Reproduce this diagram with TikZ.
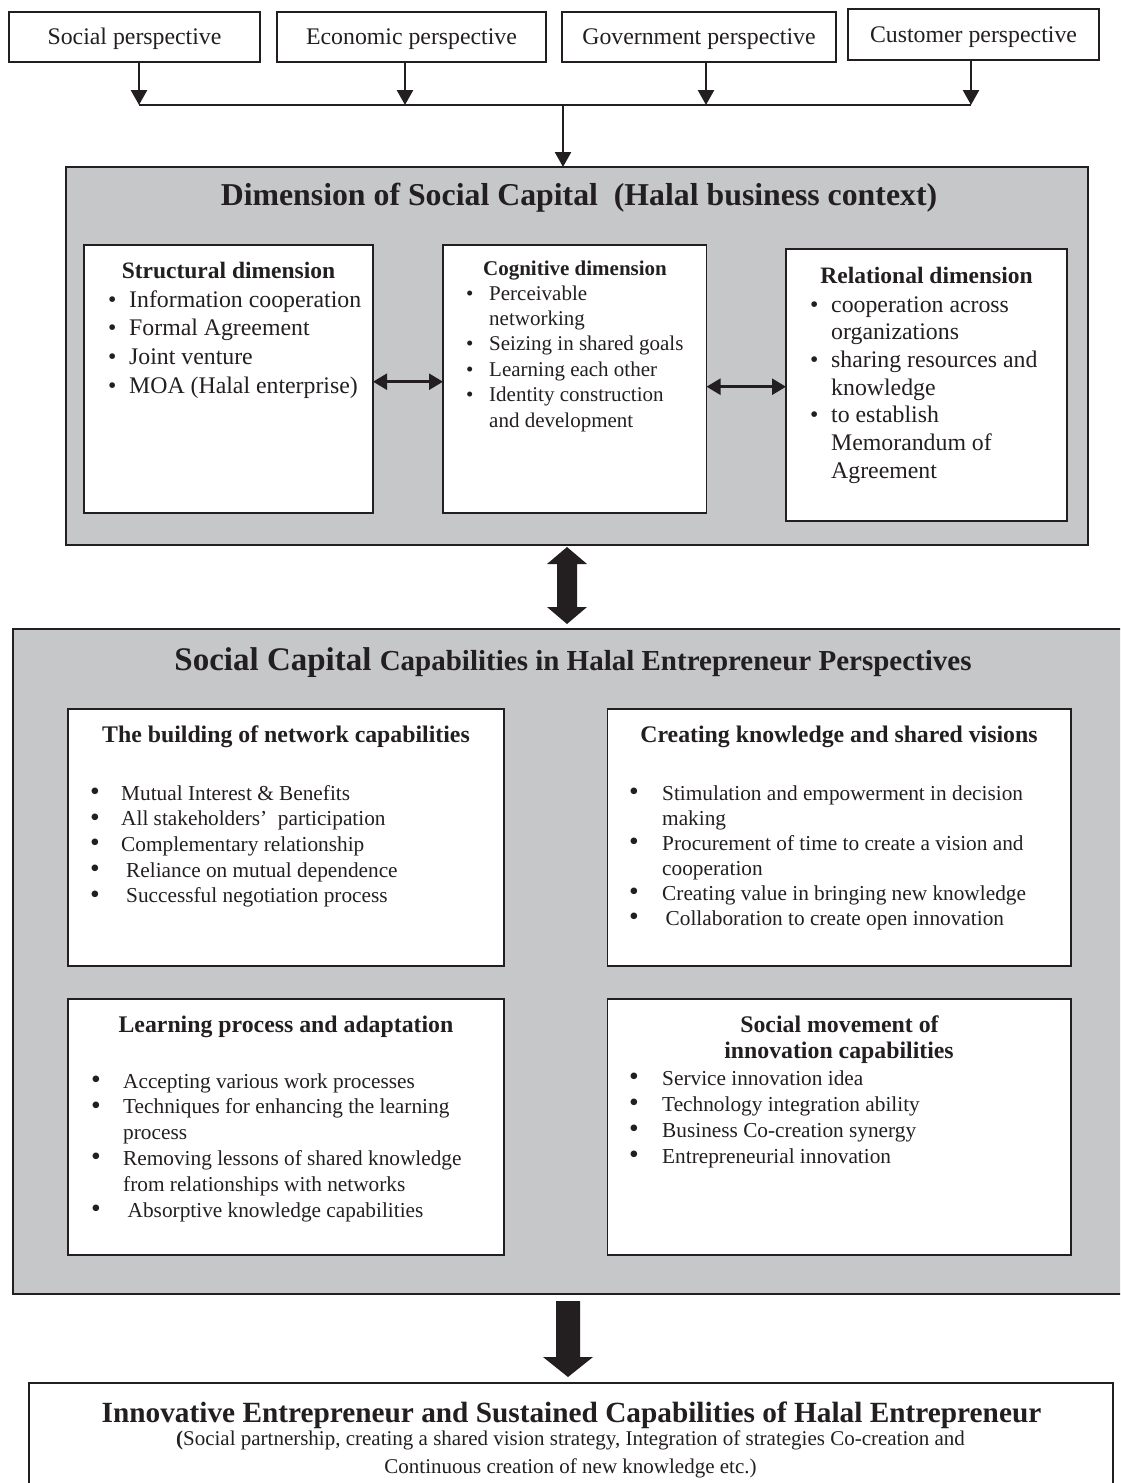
\documentclass[tikz,border=0pt]{standalone}
\usepackage{fontspec}
\usepackage{graphicx}
\setmainfont{Liberation Serif}
\usetikzlibrary{arrows.meta}
\definecolor{ink}{HTML}{231F20}
\definecolor{panel}{HTML}{C6C7C9}
\newlength\tind
\newcommand\bulsym{\textbullet}
\newcommand\bitem[1]{\par\noindent\makebox[\tind][l]{\bulsym}#1}
\newcommand\citem[1]{\par\noindent\hspace*{\tind}#1}
\newcommand\fs[2]{\fontsize{#1}{#2}\selectfont}
\newcommand\rbox[6]{\node[#1, minimum width={#5-#3}, minimum height={#6-#4}] (#2) at ({(#3+#5)/2},{(#4+#6)/2}) {};}
\tikzset{
 wbox/.style={draw=ink, line width=1.8pt, fill=white, inner sep=0pt, outer sep=0pt},
 panelbox/.style={draw=ink, line width=2pt, fill=panel, inner sep=0pt, outer sep=0pt},
 lbl/.style={inner sep=0pt, anchor=base, text=ink},
 blk/.style={inner sep=0pt, anchor=base west, text=ink},
 arr/.style={draw=ink, line width=2.5pt, -{Triangle[length=15pt,width=16pt]}},
 darr/.style={draw=ink, line width=2.5pt, {Triangle[length=14pt,width=16pt]}-{Triangle[length=14pt,width=16pt]}},
 bus/.style={draw=ink, line width=2pt},
 fat/.style={fill=ink}
}
\begin{document}
\begin{tikzpicture}[x=1pt,y=-1pt]
\useasboundingbox (0,0) rectangle (1120,1483);
\clip (0,0) rectangle (1120,1483);
\fill[white] (0,0) rectangle (1120,1483);

% perspectives
\rbox{wbox}{soc}{9}{11.7}{260}{61.7}
\rbox{wbox}{eco}{277}{11.7}{546}{61.7}
\rbox{wbox}{gov}{562}{11.7}{836}{61.7}
\rbox{wbox}{cus}{848}{9.3}{1099}{60}
\node[lbl] (tsoc) at (134.5,44) {\fs{23.8}{28}Social perspective};
\node[lbl] (teco) at (411.5,44) {\fs{23.8}{28}Economic perspective};
\node[lbl] (tgov) at (699,44) {\fs{23.8}{28}Government perspective};
\node[lbl] (tcus) at (973.5,42) {\fs{23.8}{28}Customer perspective};

\coordinate (busL) at (139,105);
\coordinate (busE) at (405,105);
\coordinate (busM) at (563,105);
\coordinate (busG) at (706,105);
\coordinate (busR) at (971,105);
\draw[bus] (busL) -- (busR);
\draw[arr] (soc.south -| busL) -- (busL);
\draw[arr] (eco.south -| busE) -- (busE);
\draw[arr] (gov.south -| busG) -- (busG);
\draw[arr] (cus.south -| busR) -- (busR);

% dimension panel
\rbox{panelbox}{dim}{66}{167}{1087.5}{545}
\draw[arr] (busM) -- (dim.north -| busM);
\node[lbl] (tdim) at (579,205) {\fs{31.8}{36}\bfseries Dimension of Social Capital~ (Halal business context)};

\rbox{wbox}{str}{84}{245}{373}{513}
\rbox{wbox}{cog}{443}{245}{706.5}{513}
\rbox{wbox}{rel}{786}{249}{1067}{521}

\node[lbl] (hstr) at (228.5,278) {\fs{23.5}{28}\bfseries Structural dimension};
\node[blk] (lstr) at (108,307) {\parbox[t]{500pt}{\setlength\tind{21pt}\fs{23.8}{28.7}%
\bitem{Information cooperation}
\bitem{Formal Agreement}
\bitem{Joint venture}
\bitem{MOA (Halal enterprise)}}};

\node[lbl] (hcog) at (575,275) {\fs{21}{25}\bfseries Cognitive dimension};
\node[blk] (lcog) at (466,300) {\parbox[t]{500pt}{\setlength\tind{23pt}\fs{21}{25.4}%
\bitem{Perceivable}
\citem{networking}
\bitem{Seizing in shared goals}
\bitem{Learning each other}
\bitem{Identity construction}
\citem{and development}}};

\node[lbl] (hrel) at (926.5,283) {\fs{23.5}{28}\bfseries Relational dimension};
\node[blk] (lrel) at (810,312) {\parbox[t]{500pt}{\setlength\tind{21pt}\fs{23.8}{27.7}%
\bitem{cooperation across}
\citem{organizations}
\bitem{sharing resources and}
\citem{knowledge}
\bitem{to establish}
\citem{Memorandum of}
\citem{Agreement}}};

\coordinate (ya) at (0,381.7);
\coordinate (yb) at (0,386.7);
\draw[darr] (str.east |- ya) -- (cog.west |- ya);
\draw[darr] (cog.east |- yb) -- (rel.west |- yb);

% capabilities panel
\rbox{panelbox}{cap}{12.5}{629}{1150}{1294}
\fill[fat] (567,547) -- (587,564) -- (577,564) -- (577,607) -- (587,607) -- (567,624)
  -- (547,607) -- (557,607) -- (557,564) -- (547,564) -- cycle;
\node[lbl] (tcap) at (573,670) {\bfseries\fs{33}{38}Social Capital \fs{29}{34}Capabilities in Halal Entrepreneur Perspectives};

\rbox{wbox}{bnet}{68}{709}{504}{966}
\rbox{wbox}{bvis}{607.5}{709}{1071}{966}
\rbox{wbox}{blrn}{68}{999}{504}{1255}
\rbox{wbox}{bmov}{607.5}{999}{1071}{1255}

\renewcommand\bulsym{\raisebox{-0.5pt}{\scalebox{1.3}{\textbullet}}}
\node[lbl] (hnet) at (286,742) {\fs{23.8}{28}\bfseries The building of network capabilities};
\node[blk] (lnet) at (90,800) {\parbox[t]{500pt}{\setlength\tind{31pt}\fs{21.3}{25.7}%
\bitem{Mutual Interest \& Benefits}
\bitem{All stakeholders’~ participation}
\bitem{Complementary relationship}
\bitem{\hspace*{5pt}Reliance on mutual dependence}
\bitem{\hspace*{5pt}Successful negotiation process}}};

\node[lbl] (hvis) at (839,742) {\fs{23.8}{28}\bfseries Creating knowledge and shared visions};
\node[blk] (lvis) at (629,800) {\parbox[t]{500pt}{\setlength\tind{33pt}\fs{21.3}{25}%
\bitem{Stimulation and empowerment in decision}
\citem{making}
\bitem{Procurement of time to create a vision and}
\citem{cooperation}
\bitem{Creating value in bringing new knowledge}
\bitem{\hspace*{3.5pt}Collaboration to create open innovation}}};

\node[lbl] (hlrn) at (286,1032) {\fs{23.8}{28}\bfseries Learning process and adaptation};
\node[blk] (llrn) at (91,1088) {\parbox[t]{500pt}{\setlength\tind{32pt}\fs{21.3}{25.8}%
\bitem{Accepting various work processes}
\bitem{Techniques for enhancing the learning}
\citem{process}
\bitem{Removing lessons of shared knowledge}
\citem{from relationships with networks}
\bitem{\hspace*{4.5pt}Absorptive knowledge capabilities}}};

\node[lbl] (hmov1) at (839.5,1032) {\fs{23.8}{28}\bfseries Social movement of};
\node[lbl] (hmov2) at (839,1058) {\fs{23.8}{28}\bfseries innovation capabilities};
\node[blk] (lmov) at (629,1085) {\parbox[t]{500pt}{\setlength\tind{33pt}\fs{21.3}{26}%
\bitem{Service innovation idea}
\bitem{Technology integration ability}
\bitem{Business Co-creation synergy}
\bitem{Entrepreneurial innovation}}};

% outcome
\fill[fat] (556,1301) -- (580,1301) -- (580,1357) -- (593,1357) -- (568,1377)
  -- (543,1357) -- (556,1357) -- cycle;
\rbox{wbox}{out}{29}{1383}{1113}{1500}
\node[lbl] (tout) at (571.5,1422) {\fs{29.3}{34}\bfseries Innovative Entrepreneur and Sustained Capabilities of Halal Entrepreneur};
\node[lbl] (sout1) at (570.5,1445) {\fs{21}{28}\textbf{(}Social partnership, creating a shared vision strategy, Integration of strategies Co-creation and};
\node[lbl] (sout2) at (570.5,1473) {\fs{21}{28}Continuous creation of new knowledge etc.)};
\end{tikzpicture}
\end{document}
